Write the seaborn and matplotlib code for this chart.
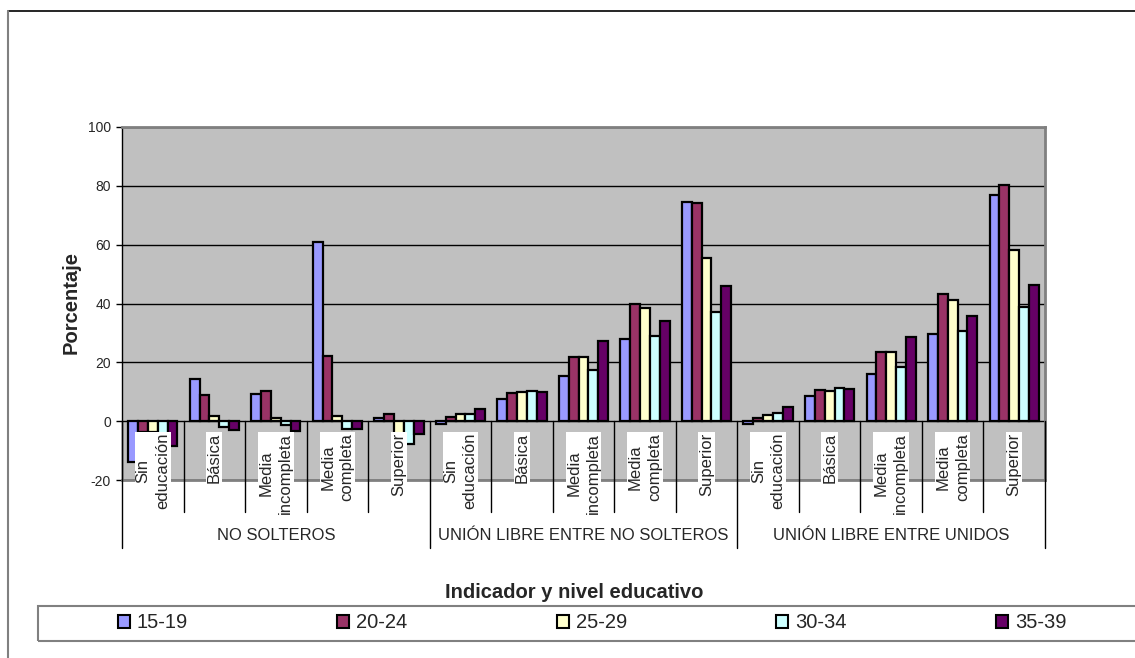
import pandas as pd
import matplotlib.pyplot as plt
import seaborn as sns
from matplotlib.patches import Patch, Rectangle
from matplotlib.lines import Line2D

# Datos
grupos = ["NO SOLTEROS", "UNIÓN LIBRE ENTRE NO SOLTEROS", "UNIÓN LIBRE ENTRE UNIDOS"]
niveles = ["Sin\neducación", "Básica", "Media\nincompleta", "Media\ncompleta", "Superior"]
edades = ["15-19", "20-24", "25-29", "30-34", "35-39"]

v15_19 = [-14.0, 14.4, 9.4, 61.0, 1.1, -1.0, 7.7, 15.3, 27.9, 74.5, -1.1, 8.5, 16.0, 29.8, 76.9]
v20_24 = [-3.6, 8.8, 10.3, 22.1, 2.3, 1.5, 9.6, 21.9, 39.7, 74.0, 1.1, 10.5, 23.4, 43.1, 80.3]
v25_29 = [-3.6, 1.7, 1.1, 1.9, -4.5, 2.4, 9.8, 21.9, 38.5, 55.3, 2.0, 10.3, 23.4, 41.2, 58.2]
v30_34 = [-4.2, -2.0, -1.4, -2.8, -7.6, 2.4, 10.2, 17.3, 28.9, 37.1, 2.9, 11.2, 18.4, 30.8, 38.8]
v35_39 = [-8.5, -3.0, -3.3, -2.8, -4.4, 4.0, 9.9, 27.2, 34.0, 45.9, 4.9, 10.8, 28.6, 35.8, 46.3]

colores = ["#9999FF", "#993366", "#FFFFCC", "#CCFFFF", "#660066"]

# Tabla larga para seaborn
categorias = [g + "|" + n for g in grupos for n in niveles]
filas = []
for edad, vals in zip(edades, [v15_19, v20_24, v25_29, v30_34, v35_39]):
    for cat, v in zip(categorias, vals):
        filas.append({"cat": cat, "edad": edad, "valor": v})
df = pd.DataFrame(filas)
paleta = dict(zip(edades, colores))

sns.set_style("white")
plt.rcParams["font.family"] = ["Liberation Sans", "DejaVu Sans"]
plt.rcParams["axes.unicode_minus"] = False

W, H = 1135, 658
fig = plt.figure(figsize=(W / 100, H / 100), dpi=100)
ax = fig.add_axes([122 / W, 1 - 480 / H, (1045 - 122) / W, (480 - 127) / H])

sns.barplot(data=df, x="cat", y="valor", hue="edad", order=categorias, hue_order=edades,
            palette=paleta, saturation=1, errorbar=None, width=0.8,
            edgecolor="black", linewidth=1.6, legend=False, ax=ax)

ax.set_facecolor("#C0C0C0")
ax.set_ylim(-20, 100)
ax.set_xlim(-0.5, len(categorias) - 0.5)
ax.set_yticks(range(-20, 101, 20))
ax.tick_params(axis="y", labelsize=10, length=4, width=1, color="black", pad=4, left=True)
ax.set_xticks([])
ax.set_xlabel("")
ax.set_ylabel("")
ax.grid(axis="y", color="black", linewidth=1)
ax.grid(axis="x", visible=False)
for lado in ["top", "right", "bottom"]:
    ax.spines[lado].set_color("#808080")
    ax.spines[lado].set_linewidth(2)
ax.spines["left"].set_color("black")
ax.spines["left"].set_linewidth(1)

# Etiquetas de nivel educativo dentro del área (con fondo blanco)
for i, cat in enumerate(categorias):
    nivel = cat.split("|")[1]
    ax.text(i, -4.0, nivel, rotation=90, ha="center", va="top", fontsize=12,
            multialignment="center", linespacing=1.35, zorder=6,
            bbox=dict(facecolor="white", edgecolor="none", pad=0.5))

# Divisiones del eje de categorías
n_niv = len(niveles)
for k in range(len(categorias) + 1):
    x = k - 0.5
    fondo = -43.2 if k % n_niv == 0 else -31
    ax.add_line(Line2D([x, x], [0, fondo], color="black", lw=1, clip_on=False, zorder=5))

for j, g in enumerate(grupos):
    ax.text(j * n_niv + (n_niv - 1) / 2, -38.8, g, ha="center", va="center", fontsize=12,
            clip_on=False)

fig.text(71 / W, 1 - 303 / H, "Porcentaje", rotation=90, ha="center", va="center",
         fontsize=14.5, fontweight="bold")
fig.text(574 / W, 1 - 593 / H, "Indicador y nivel educativo", ha="center", va="center",
         fontsize=14.5, fontweight="bold")

# Leyenda
handles = [Patch(facecolor=paleta[e], edgecolor="black", linewidth=1.5) for e in edades]
fig.legend(handles, edades, loc="center", bbox_to_anchor=(592 / W, 1 - 623 / H), ncol=5,
           frameon=False, fontsize=14.5, handlelength=0.6, handleheight=0.6,
           handletextpad=0.35, columnspacing=7.4)
fig.add_artist(Rectangle((38 / W, 1 - 641 / H), (1145 - 38) / W, 35 / H,
                         transform=fig.transFigure, fill=False, edgecolor="#808080", lw=1.5))

# Marco del gráfico
fig.add_artist(Line2D([8 / W, 1], [1 - 11 / H, 1 - 11 / H], transform=fig.transFigure,
                      color="black", lw=1.2))
fig.add_artist(Line2D([8 / W, 8 / W], [0, 1 - 11 / H], transform=fig.transFigure,
                      color="#808080", lw=1.5))

fig.savefig("out.png", dpi=100)
